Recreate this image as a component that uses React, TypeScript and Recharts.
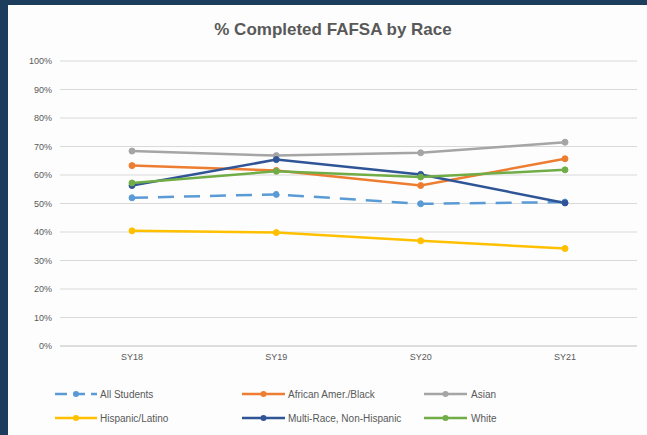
import { CartesianGrid, Line, LineChart, XAxis, YAxis } from "recharts";

const YEARS = ["SY18", "SY19", "SY20", "SY21"];
const Y_TICKS = [0, 10, 20, 30, 40, 50, 60, 70, 80, 90, 100];

const ALL_STUDENTS = [52.0, 53.2, 49.9, 50.5];
const BLACK = [63.3, 61.6, 56.3, 65.7];
const ASIAN = [68.4, 66.8, 67.8, 71.5];
const HISPANIC = [40.4, 39.8, 36.9, 34.2];
const MULTI = [56.3, 65.4, 60.2, 50.2];
const WHITE = [57.2, 61.3, 59.3, 61.8];

const SERIES: Array<{ key: string; label: string; color: string; values: number[]; dash?: string }> = [
  { key: "all", label: "All Students", color: "#5b9bd5", values: ALL_STUDENTS, dash: "16 10" },
  { key: "black", label: "African Amer./Black", color: "#ed7d31", values: BLACK },
  { key: "asian", label: "Asian", color: "#a5a5a5", values: ASIAN },
  { key: "hispanic", label: "Hispanic/Latino", color: "#ffc000", values: HISPANIC },
  { key: "multi", label: "Multi-Race, Non-Hispanic", color: "#2f5597", values: MULTI },
  { key: "white", label: "White", color: "#70ad47", values: WHITE },
];

// legend slots (panel coords): [lineStart, lineEnd, textX, rowY]
const LEGEND_POS = [
  [47, 89, 92, 389],
  [234, 277, 280, 389],
  [416, 459, 463, 389],
  [47, 89, 92, 413],
  [234, 277, 280, 413],
  [416, 459, 463, 413],
];

const FONT = "'Liberation Sans', Arial, sans-serif";

export default function App() {
  const data = YEARS.map((y, i) => {
    const row: Record<string, string | number> = { year: y };
    SERIES.forEach((s) => (row[s.key] = s.values[i]));
    return row;
  });

  return (
    <div style={{ position: "absolute", left: 0, top: 0, width: 647, height: 435, background: "#1c3d5c" }}>
      <div
        style={{
          position: "absolute",
          left: 8,
          top: 5,
          width: 639,
          height: 430,
          background: "#fdfdfd",
          fontFamily: FONT,
        }}
      >
        <div
          style={{
            position: "absolute",
            left: 0,
            top: 15,
            width: 650,
            textAlign: "center",
            fontSize: 17,
            fontWeight: "bold",
            color: "#595959",
          }}
        >
          % Completed FAFSA by Race
        </div>
        <LineChart width={639} height={430} data={data} margin={{ top: 56, right: 10, left: 0, bottom: 59 }}>
          <CartesianGrid stroke="#d9d9d9" vertical={false} />
          <XAxis
            dataKey="year"
            height={30}
            padding={{ left: 72, right: 72 }}
            tick={{ fill: "#595959", fontSize: 9, fontFamily: FONT }}
            axisLine={{ stroke: "#d0d0d0" }}
            tickLine={false}
          />
          <YAxis
            width={52}
            domain={[0, 100]}
            ticks={Y_TICKS}
            tick={{ fill: "#595959", fontSize: 9, fontFamily: FONT }}
            tickFormatter={(v) => `${v}%`}
            axisLine={false}
            tickLine={false}
          />
          {SERIES.map((s) => (
            <Line
              key={s.key}
              dataKey={s.key}
              type="linear"
              stroke={s.color}
              strokeWidth={2.5}
              strokeDasharray={s.dash}
              dot={{ r: 3, fill: s.color, stroke: s.color, strokeWidth: 1 }}
              isAnimationActive={false}
            />
          ))}
        </LineChart>
        <svg style={{ position: "absolute", left: 0, top: 0 }} width={639} height={430}>
          {SERIES.map((s, i) => {
            const [x1, x2, tx, y] = LEGEND_POS[i];
            return (
              <g key={s.key}>
                <line x1={x1} x2={x2} y1={y} y2={y} stroke={s.color} strokeWidth={2.5} strokeDasharray={s.dash ? "12 6" : undefined} />
                <circle cx={(x1 + x2) / 2} cy={y} r={3} fill={s.color} />
                <text x={tx} y={y + 3.5} fontSize={10} fill="#595959" fontFamily={FONT}>
                  {s.label}
                </text>
              </g>
            );
          })}
        </svg>
      </div>
    </div>
  );
}
